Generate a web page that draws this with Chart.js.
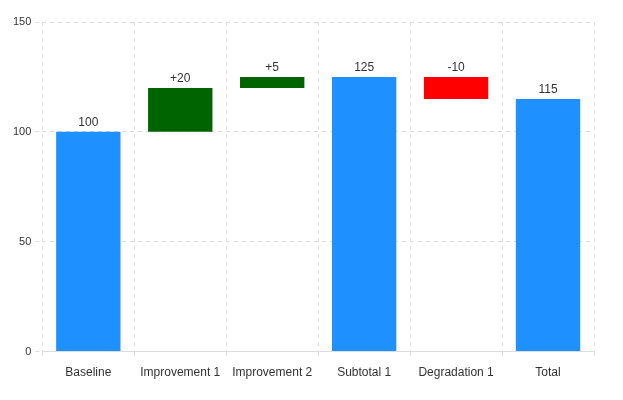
<!DOCTYPE html>
<html>
<head>
<meta charset="utf-8">
<script src="https://cdn.jsdelivr.net/npm/chart.js@4/dist/chart.umd.min.js"></script>
<style>
html,body{margin:0;padding:0;background:#fff;}
#wrap{width:623px;height:400px;}
</style>
</head>
<body>
<div id="wrap"><canvas id="c"></canvas></div>
<script>
const categories = ['Baseline','Improvement 1','Improvement 2','Subtotal 1','Degradation 1','Total'];
const barStarts = [0, 100, 120, 0, 115, 0];
const barEnds = [100, 120, 125, 125, 125, 115];
const valueLabels = ['100','+20','+5','125','-10','115'];
const barColors = ['#1E90FF','#006400','#006400','#1E90FF','#FF0000','#1E90FF'];
const yTicks = [0, 50, 100, 150];

const labelPlugin = {
  id: 'valueLabels',
  afterDatasetsDraw(chart) {
    const ctx = chart.ctx;
    const meta = chart.getDatasetMeta(0);
    ctx.save();
    ctx.font = '12px "Liberation Sans", Arial, sans-serif';
    ctx.fillStyle = '#333';
    ctx.textAlign = 'center';
    ctx.textBaseline = 'bottom';
    meta.data.forEach((bar, i) => {
      const top = Math.min(bar.y, bar.base);
      ctx.fillText(valueLabels[i], bar.x, top - 3);
    });
    ctx.restore();
  }
};

new Chart(document.getElementById('c'), {
  type: 'bar',
  data: {
    labels: categories,
    datasets: [{
      data: categories.map((_, i) => [barStarts[i], barEnds[i]]),
      backgroundColor: barColors,
      borderWidth: 0,
      borderSkipped: false,
      categoryPercentage: 0.8,
      barPercentage: 0.875
    }]
  },
  options: {
    responsive: true,
    maintainAspectRatio: false,
    animation: false,
    layout: { padding: { top: 22, right: 29, left: 9, bottom: 13 } },
    plugins: { legend: { display: false }, tooltip: { enabled: false } },
    scales: {
      x: {
        grid: { color: '#dddddd', tickBorderDash: [4,4], tickLength: 7 },
        border: { color: '#dddddd', dash: [4,4] },
        ticks: { color: '#333', padding: 7, font: { family: '"Liberation Sans", Arial, sans-serif', size: 12 } }
      },
      y: {
        min: 0, max: 150,
        afterBuildTicks(axis) { axis.ticks = yTicks.map(v => ({ value: v })); },
        grid: { color: '#dddddd', tickBorderDash: [4,4], tickLength: 7 },
        border: { display: false, dash: [4,4] },
        ticks: { color: '#333', padding: 4, font: { family: '"Liberation Sans", Arial, sans-serif', size: 11 } }
      }
    }
  },
  plugins: [labelPlugin]
});
</script>
</body>
</html>
